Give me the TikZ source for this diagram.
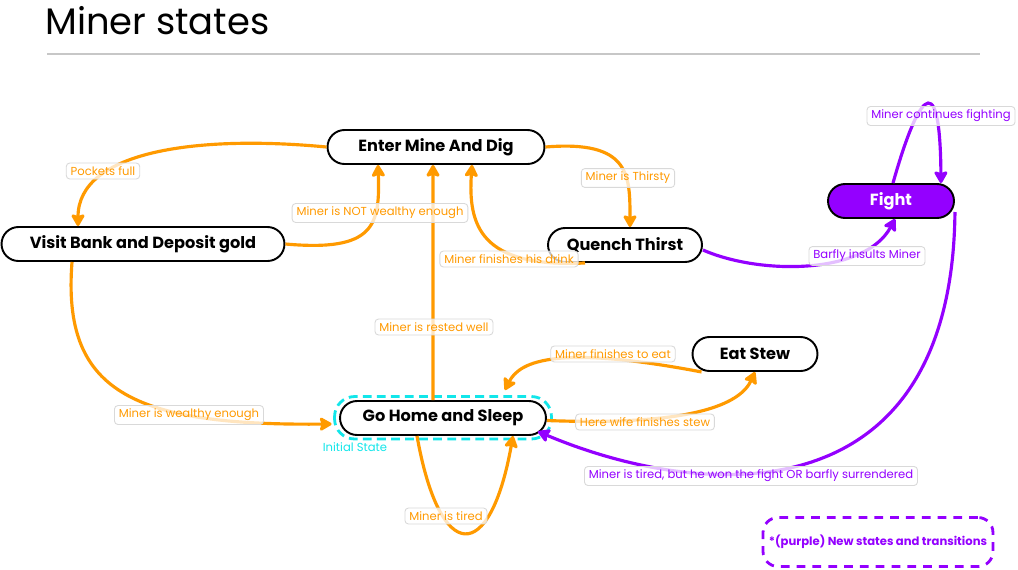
\documentclass[tikz,border=0pt]{standalone}
\usepackage{fontspec}
\setmainfont{Poppins}
\usetikzlibrary{arrows.meta, calc}
\definecolor{minerorange}{HTML}{FF9A00}
\definecolor{minerpurple}{HTML}{9400FF}
\definecolor{minercyan}{HTML}{12E6EA}
\tikzset{
  state/.style={
    draw=black,
    line width=1.1pt,
    fill=white,
    rounded corners=0.34cm,
    minimum height=0.68cm,
    inner sep=0pt,
    font=\fontsize{9.2}{10}\selectfont\bfseries
  },
  trans/.style={
    -{Stealth[length=8pt, width=9pt, inset=1.5pt, round]},
    line width=1.8pt,
    color=minerorange
  },
  new trans/.style={
    trans,
    color=minerpurple
  },
  edge label/.style={
    draw=black!15,
    line width=0.5pt,
    fill=white,
    fill opacity=0.75,
    text opacity=1,
    rounded corners=2pt,
    inner xsep=2.5pt,
    inner ysep=2pt,
    text=minerorange,
    font=\fontsize{6.6}{7.5}\selectfont
  },
  new label/.style={
    edge label,
    text=minerpurple
  }
}

\begin{document}
\begin{tikzpicture}[x=0.02cm, y=-0.02cm]

  %% ---- page ----
  \fill[white] (0,0) rectangle (1018,569);
  \useasboundingbox (0,0) rectangle (1018,569);

  %% ---- title ----
  \node[anchor=west, font=\fontsize{21}{24}\selectfont, inner sep=0pt] (title) at (45,21) {Miner states};
  \draw[black!22, line width=1pt] (47,54) -- (980,54);

  %% ---- states ----
  \node[state, minimum width=4.34cm] (enter) at (436,147) {Enter Mine And Dig};
  \node[state, minimum width=5.66cm] (bank)  at (143,244) {Visit Bank and Deposit gold};
  \node[state, minimum width=3.08cm] (quench) at (625,245) {Quench Thirst};
  \node[state, minimum width=2.52cm, fill=minerpurple, text=white] (fight) at (891,201) {Fight};
  \node[state, minimum width=2.50cm] (stew)  at (755,354) {Eat Stew};
  \node[state, minimum width=4.12cm] (home)  at (443,418) {Go Home and Sleep};

  % initial state marker
  \draw[minercyan, line width=1.6pt, dash pattern=on 5pt off 3pt, rounded corners=0.4cm]
      ([shift={(-0.09cm,0.07cm)}]home.north west) rectangle ([shift={(0.09cm,-0.06cm)}]home.south east);
  \node[text=minercyan, font=\fontsize{6.6}{7.5}\selectfont, inner sep=0pt] (initial) at (355,447) {Initial State};

  %% ---- transitions ----
  \draw[trans] (enter.west) .. controls (200,135) and (78,150) .. ([xshift=-1.3cm]bank.north);
  \draw[trans] (bank.east) .. controls (375,252) and (380,225) .. ([xshift=-1.16cm]enter.south);
  \draw[trans] (enter.east) .. controls (630,140) and (630,175) .. ([xshift=0.1cm]quench.north);
  \draw[trans] ([xshift=-0.8cm]quench.south) .. controls (480,268) and (468,225) .. ([xshift=0.72cm]enter.south);
  \draw[trans] ([xshift=-0.2cm]home.north) -- ([xshift=-0.06cm]enter.south);
  \draw[trans] ([xshift=-1.42cm]bank.south) .. controls (62,390) and (130,426) .. ([shift={(-0.15cm,-0.12cm)}]home.west);
  \draw[trans] ([yshift=-0.05cm]home.east) .. controls (690,426) and (740,405) .. (stew.south);
  \draw[trans] ([xshift=0.2cm]stew.south west) .. controls (560,345) and (520,360) .. ([shift={(1.24cm,0.2cm)}]home.north);
  \draw[trans] ([xshift=-0.52cm]home.south) .. controls (440,565) and (490,565) .. ([xshift=1.4cm]home.south);

  % new transitions
  \draw[new trans] ([yshift=-0.1cm]quench.east) .. controls (760,275) and (865,275) .. ([xshift=0.08cm]fight.south);
  \draw[new trans] ([xshift=0.04cm]fight.north) .. controls (915,105) and (940,55) .. ([xshift=1.0cm]fight.north);
  \draw[new trans] ([yshift=-0.22cm]fight.east) .. controls (952,520) and (700,500) .. ([shift={(-0.18cm,-0.27cm)}]home.east);

  %% ---- transition labels ----
  \node[edge label] (pockets) at (103,171) {Pockets full};
  \node[edge label] (notrich) at (380,213) {Miner is NOT wealthy enough};
  \node[edge label] (thirsty) at (628,178) {Miner is Thirsty};
  \node[edge label] (drink)   at (509,259) {Miner finishes his drink};
  \node[edge label] (rested)  at (434,327) {Miner is rested well};
  \node[edge label] (eaten)   at (613,354) {Miner finishes to eat};
  \node[edge label] (wife)    at (645,422) {Here wife finishes stew};
  \node[edge label] (rich)    at (189,415) {Miner is wealthy enough};
  \node[edge label] (tired)   at (446,516) {Miner is tired};
  \node[new label] (fighting) at (941,116) {Miner continues fighting};
  \node[new label] (insult)   at (867,256) {Barfly insults Miner};
  \node[new label] (won)      at (751,476) {Miner is tired, but he won the fight OR barfly surrendered};

  %% ---- legend ----
  \node[draw=minerpurple, line width=1.6pt, dash pattern=on 5pt off 4pt, rounded corners=0.3cm,
        minimum width=4.6cm, minimum height=0.98cm, text=minerpurple,
        font=\fontsize{6.6}{7.5}\selectfont\bfseries] (legend) at (878,542) {*(purple) New states and transitions};

\end{tikzpicture}
\end{document}
